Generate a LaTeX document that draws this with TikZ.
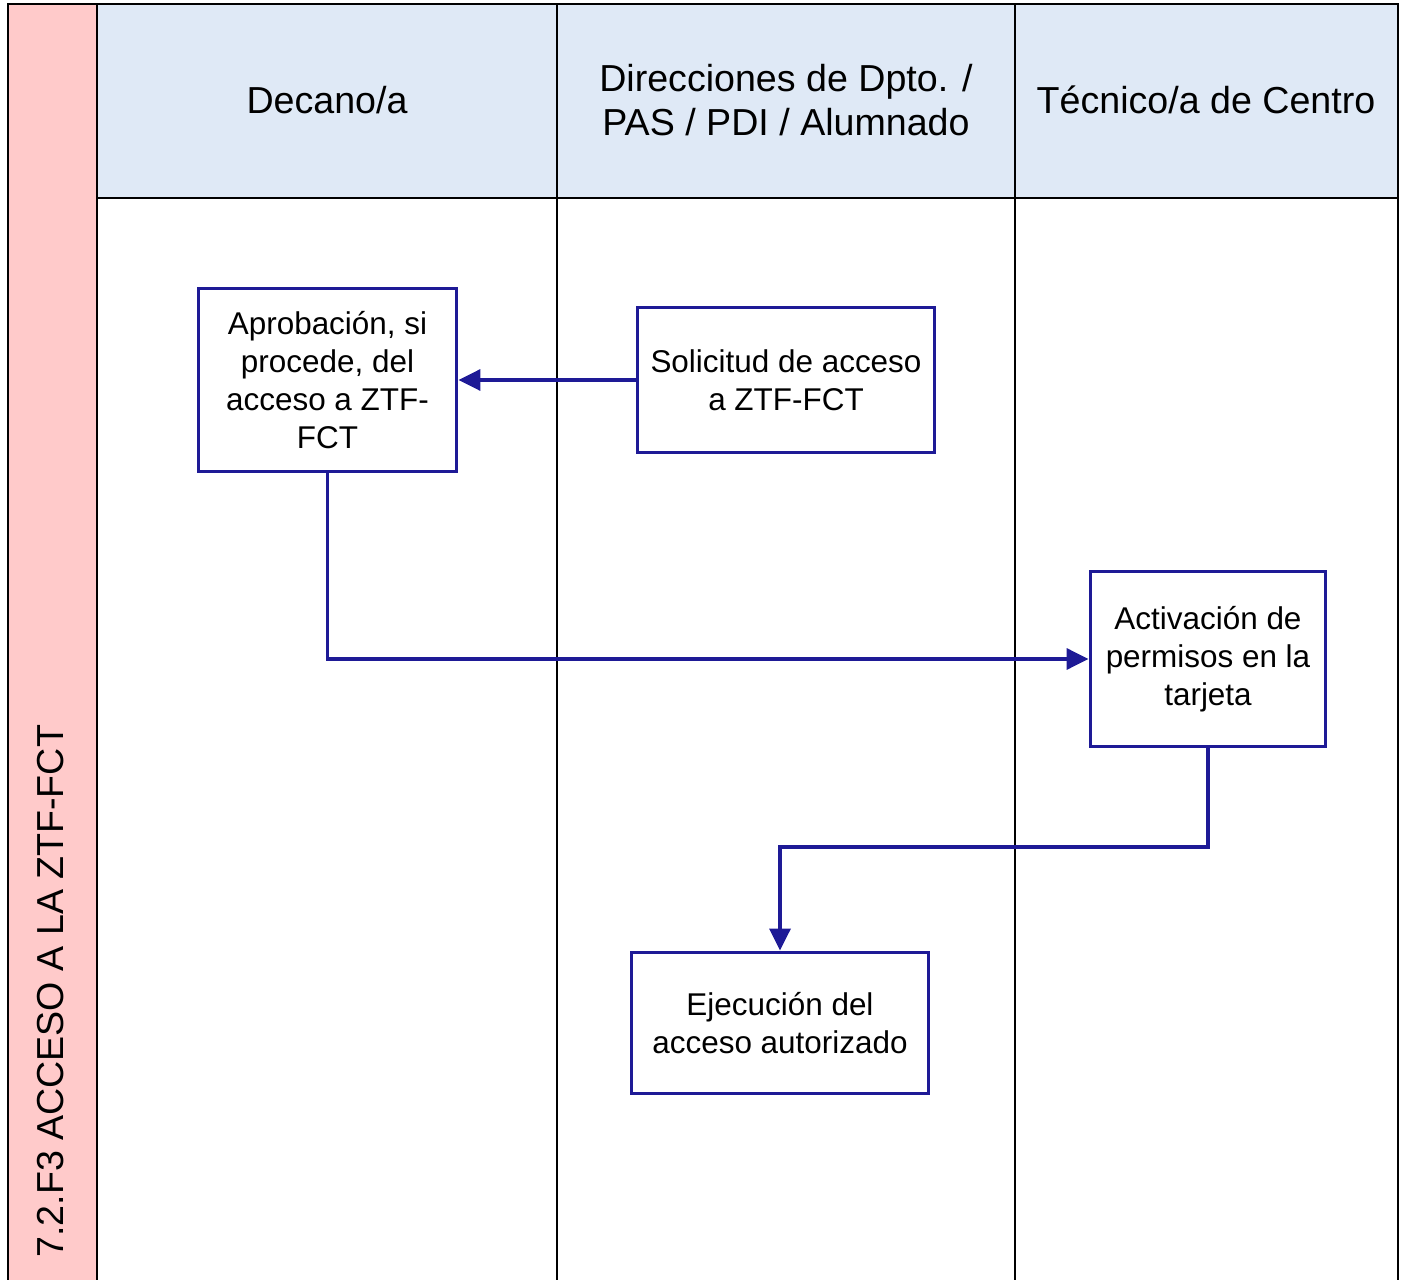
\documentclass[tikz,border=0pt]{standalone}
\usepackage{fontspec}
\setmainfont{Liberation Sans}
\usetikzlibrary{arrows.meta,positioning}
\definecolor{flowblue}{HTML}{1E1A96}
\definecolor{lanepink}{HTML}{FFCACA}
\definecolor{headblue}{HTML}{DFE9F6}

\begin{document}
\begin{tikzpicture}[x=0.02cm, y=-0.02cm,
  lane/.style={draw=black, line width=1.1pt},
  lanehead/.style={font=\fontsize{21.4}{25}\selectfont, align=center},
  procbox/.style={draw=flowblue, line width=1.7pt, fill=white, align=center,
    font=\fontsize{17.9}{21.5}\selectfont, inner sep=0pt},
  flow/.style={draw=flowblue, line width=2pt, -{Triangle[length=0.44cm, width=0.42cm]}}]
  \useasboundingbox (0,0) rectangle (1404,1280);
  % lanes
  \fill[lanepink] (8,4) rectangle (97,1280);
  \fill[headblue] (97,4) rectangle (1398,198);
  \draw[lane] (8,1280) -- (8,4) -- (1398,4) -- (1398,1280);
  \draw[lane] (97,4) -- (97,1280);
  \draw[lane] (557,4) -- (557,1280);
  \draw[lane] (1015,4) -- (1015,1280);
  \draw[lane] (97,198) -- (1398,198);
  \node[lanehead, rotate=90, anchor=base west, inner sep=0pt] (pool) at (63,1258) {7.2.F3 ACCESO A LA ZTF-FCT};
  \node[lanehead] (decano) at (327,100) {Decano/a};
  \node[lanehead] (direc) at (786,100) {Direcciones de Dpto. /\\PAS / PDI / Alumnado};
  \node[lanehead] (tecnico) at (1206,100) {Técnico/a de Centro};
  % steps
  \node[procbox, minimum width=5.18cm, minimum height=3.68cm] (aprob) at (327.5,380)
    {Aprobación, si\\procede, del\\acceso a ZTF-\\FCT};
  \node[procbox, minimum width=5.96cm, minimum height=2.9cm] (solic) at (786,380)
    {Solicitud de acceso\\a ZTF-FCT};
  \node[procbox, minimum width=4.72cm, minimum height=3.52cm] (activ) at (1208,659)
    {Activación de\\permisos en la\\tarjeta};
  \node[procbox, minimum width=5.96cm, minimum height=2.84cm] (ejec) at (780,1023)
    {Ejecución del\\acceso autorizado};
  % connectors
  \draw[flow] (solic) -- (aprob);
  \draw[flow] (aprob.south) |- (activ.west);
  \coordinate (turn) at (780,847);
  \draw[flow] (activ.south) |- (turn) -- (ejec.north);
\end{tikzpicture}
\end{document}
